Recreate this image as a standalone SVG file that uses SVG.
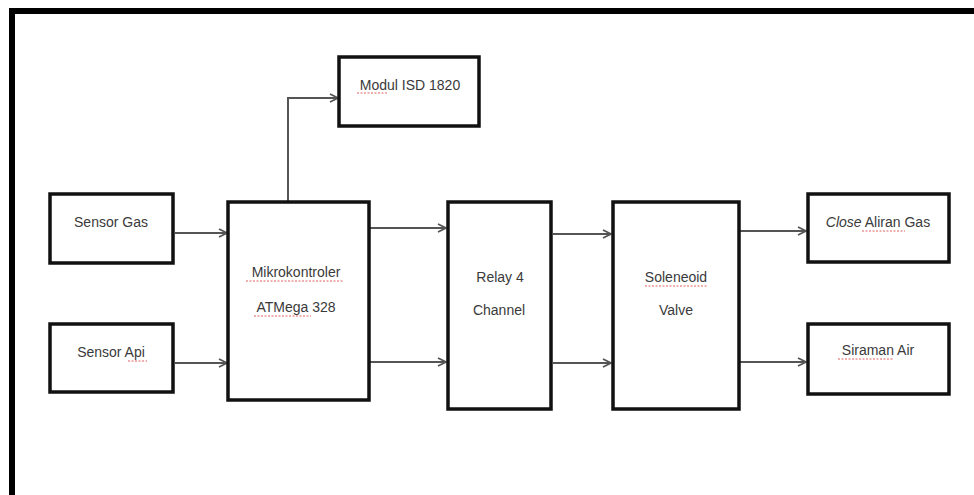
<svg xmlns="http://www.w3.org/2000/svg" width="974" height="495" viewBox="0 0 974 495">
<defs>
<style>
.box{fill:#fff;stroke:#111;stroke-width:3.5}
.lbl{font-family:"Liberation Sans",Arial,sans-serif;font-size:14px;fill:#3a3a3a;text-anchor:middle}
.edge{fill:none;stroke:#555;stroke-width:2;marker-end:url(#arr)}
.sp{fill:none;stroke:#e06060;stroke-width:1;stroke-dasharray:2 1.5}
</style>
<marker id="arr" viewBox="0 0 10 10" refX="9" refY="5" markerWidth="10" markerHeight="10" markerUnits="userSpaceOnUse" orient="auto">
<path d="M1,1 L9,5 L1,9" fill="none" stroke="#555" stroke-width="1.8"/>
</marker>
</defs>
<rect width="974" height="495" fill="#fff"/>
<path d="M12,495 L12,11 L974,11" fill="none" stroke="#000" stroke-width="6"/>

<g id="connectors">
<path class="edge" d="M288,202 L288,98 L338,98"/>
<path class="edge" d="M175,233 L227,233"/>
<path class="edge" d="M175,363 L227,363"/>
<path class="edge" d="M370,228 L446,228"/>
<path class="edge" d="M370,362 L446,362"/>
<path class="edge" d="M553,234 L611,234"/>
<path class="edge" d="M553,363 L611,363"/>
<path class="edge" d="M740,231 L806,231"/>
<path class="edge" d="M740,362 L806,362"/>
</g>

<g id="modul">
<rect class="box" x="339" y="57" width="140" height="69"/>
<text class="lbl" x="410" y="90">Modul ISD 1820</text>
<path class="sp" d="M357,93 L387,93"/>
</g>
<g id="sensor-gas">
<rect class="box" x="50" y="194" width="123" height="69"/>
<text class="lbl" x="111" y="227">Sensor Gas</text>
</g>
<g id="sensor-api">
<rect class="box" x="50" y="324" width="123" height="68"/>
<text class="lbl" x="111" y="357">Sensor Api</text>
<path class="sp" d="M128,361 L147,361"/>
</g>
<g id="mikro">
<rect class="box" x="228" y="202" width="141" height="198"/>
<text class="lbl" x="296" y="277">Mikrokontroler</text>
<text class="lbl" x="296" y="312">ATMega 328</text>
<path class="sp" d="M246,281 L344,281"/>
<path class="sp" d="M254,316 L311,316"/>
</g>
<g id="relay">
<rect class="box" x="448" y="202" width="103" height="207"/>
<text class="lbl" x="500" y="282">Relay 4</text>
<text class="lbl" x="499" y="315">Channel</text>
</g>
<g id="solenoid">
<rect class="box" x="613" y="202" width="126" height="207"/>
<text class="lbl" x="676" y="282">Soleneoid</text>
<text class="lbl" x="676" y="315">Valve</text>
<path class="sp" d="M645,286 L708,286"/>
</g>
<g id="close">
<rect class="box" x="808" y="194" width="141" height="68"/>
<text class="lbl" x="878" y="227"><tspan font-style="italic">Close</tspan> Aliran Gas</text>
<path class="sp" d="M862,231 L905,231"/>
</g>
<g id="siraman">
<rect class="box" x="808" y="324" width="141" height="70"/>
<text class="lbl" x="878" y="355">Siraman Air</text>
<path class="sp" d="M838,359 L894,359"/>
</g>
</svg>
